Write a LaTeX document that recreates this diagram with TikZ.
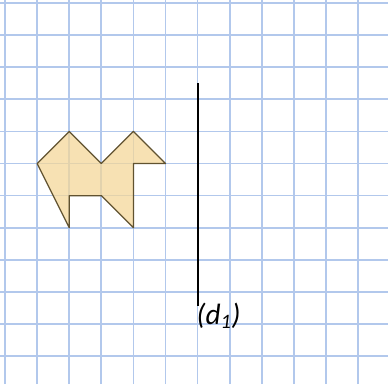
\documentclass[tikz,border=0pt]{standalone}
\usepackage{fontspec}
\setmainfont{Carlito}
\definecolor{gridblue}{RGB}{178,200,236}
\definecolor{shapefill}{RGB}{245,214,150}
\definecolor{shapeline}{RGB}{96,82,48}
\begin{document}
\begin{tikzpicture}[x=1cm, y=1cm]
  \useasboundingbox (-0.156,0.094) rectangle (11.93,-11.875);
  \fill[white] (-0.156,0.094) rectangle (11.93,-11.875);

  % squared paper
  \draw[gridblue, line width=1.5pt] (-0.156,-11.875) grid (11.93,0.094);

  % the figure
  \filldraw[fill=shapefill, fill opacity=0.72, draw=shapeline, line width=1.1pt,
            line join=round]
    (1,-5) -- (2,-4) -- (3,-5) -- (4,-4) -- (5,-5) -- (4,-5) -- (4,-7)
    -- (3,-6) -- (2,-6) -- (2,-7) -- cycle;

  % the line (d1)
  \coordinate (d1top) at (6,-2.5);
  \coordinate (d1bot) at (6,-9.45);
  \draw[black, line width=1.8pt] (d1top) -- (d1bot);
  \node (d1label) [anchor=north west, inner sep=0pt, xshift=-1pt, yshift=3pt,
                   font=\fontsize{26}{30}\selectfont\itshape]
                  at (d1bot) {(d\textsubscript{1})};
\end{tikzpicture}
\end{document}
